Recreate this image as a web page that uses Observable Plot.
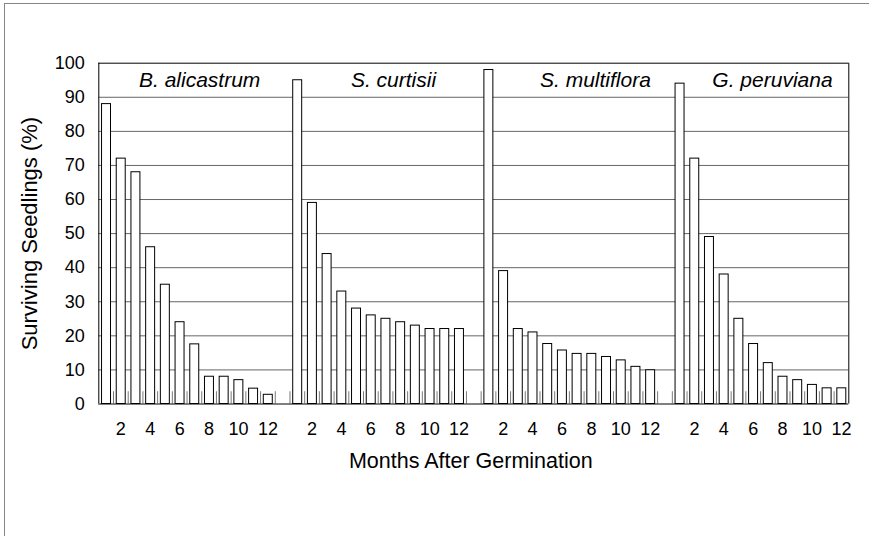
<!DOCTYPE html>
<html>
<head>
<meta charset="utf-8">
<script src="https://cdn.jsdelivr.net/npm/d3@7"></script>
<script src="https://cdn.jsdelivr.net/npm/@observablehq/plot@0.6"></script>
<style>
  html, body { margin: 0; padding: 0; background: white; overflow: hidden; }
  #wrap { position: relative; width: 869px; height: 536px; }
  #border { position: absolute; left: 4px; top: 3px; width: 2000px; height: 2000px;
            border-left: 1px solid #868686; border-top: 1px solid #868686; }
  #chart { position: absolute; left: 0; top: 0; }
</style>
</head>
<body>
<div id="wrap"><div id="border"></div><div id="chart"></div></div>
<script>
// ---- data ----
const species = ["B. alicastrum", "S. curtisii", "S. multiflora", "G. peruviana"];
const months = [1, 2, 3, 4, 5, 6, 7, 8, 9, 10, 11, 12];
const alicastrum = [88, 72, 68, 46, 35, 24, 17.5, 8, 8, 7, 4.5, 2.7];
const curtisii = [95, 59, 44, 33, 28, 26, 25, 24, 23, 22, 22, 22];
const multiflora = [98, 39, 22, 21, 17.6, 15.7, 14.7, 14.7, 13.8, 12.8, 10.9, 9.9];
const peruviana = [94, 72, 49, 38, 25, 17.6, 12, 8, 7, 5.6, 4.6, 4.6];
const yTicks = [0, 10, 20, 30, 40, 50, 60, 70, 80, 90, 100];
const xTickLabels = [2, 4, 6, 8, 10, 12];
const yTitle = "Surviving Seedlings (%)";
const xTitle = "Months After Germination";

// ---- layout ----
const series = [alicastrum, curtisii, multiflora, peruviana];
const perPanel = months.length + 1;           // 12 months + 1 gap slot
const nSlots = species.length * perPanel - 1; // 51
const titleDx = [6.86, 7.04, 7.77, 6.81];

const rows = species.flatMap((s, p) =>
  series[p].map((v, k) => ({ species: s, month: months[k], value: v, slot: p * perPanel + k }))
);
const boundaries = d3.range(1, nSlots);
const xTickPos = species.flatMap((s, p) => xTickLabels.map(m => p * perPanel + (m - 1) + 0.5));
const posToLabel = new Map(xTickPos.map((x, i) => [x, String(xTickLabels[i % xTickLabels.length])]));
const grid = yTicks.filter(v => v > 0 && v < 100);

const font = "'Liberation Sans', Arial, sans-serif";

const chart = Plot.plot({
  width: 869,
  height: 536,
  marginLeft: 98.3,
  marginRight: 20.7,
  marginTop: 62.7,
  marginBottom: 132.5,
  style: { fontFamily: font, fontSize: "18px", color: "black", background: "transparent", overflow: "visible" },
  x: { domain: [0, nSlots], axis: null },
  y: { domain: [0, 100], axis: null },
  marks: [
    Plot.ruleY(grid, { stroke: "#666666", strokeWidth: 1 }),
    Plot.ruleX(boundaries, { y1: 0, y2: 3.6, stroke: "#7a7a7a", strokeWidth: 1 }),
    Plot.rect(rows, {
      x1: d => d.slot + 0.22,
      x2: d => d.slot + 0.83,
      y1: 0,
      y2: "value",
      fill: "white",
      stroke: "black",
      strokeWidth: 1
    }),
    Plot.ruleY([0, 100], { stroke: "black", strokeWidth: 1 }),
    Plot.ruleX([0, nSlots], { stroke: "black", strokeWidth: 1 }),
    Plot.axisY({ ticks: yTicks, tickSize: 0, tickPadding: 14, fontSize: 18, label: null }),
    Plot.axisX({ ticks: xTickPos, tickFormat: d => posToLabel.get(d), tickSize: 0, tickPadding: 18, fontSize: 18, label: null }),
    Plot.text(species, {
      x: (d, i) => i * perPanel + titleDx[i],
      y: 95,
      text: d => d,
      fontStyle: "italic",
      fontSize: 21,
      fill: "black"
    }),
    Plot.text([yTitle], { frameAnchor: "left", dx: -69, rotate: -90, textAnchor: "middle", lineAnchor: "middle", fontSize: 22, fill: "black" }),
    Plot.text([xTitle], { frameAnchor: "bottom", dx: -3, dy: 57, textAnchor: "middle", lineAnchor: "middle", fontSize: 21.5, fill: "black" })
  ]
});
document.getElementById("chart").appendChild(chart);
</script>
</body>
</html>
